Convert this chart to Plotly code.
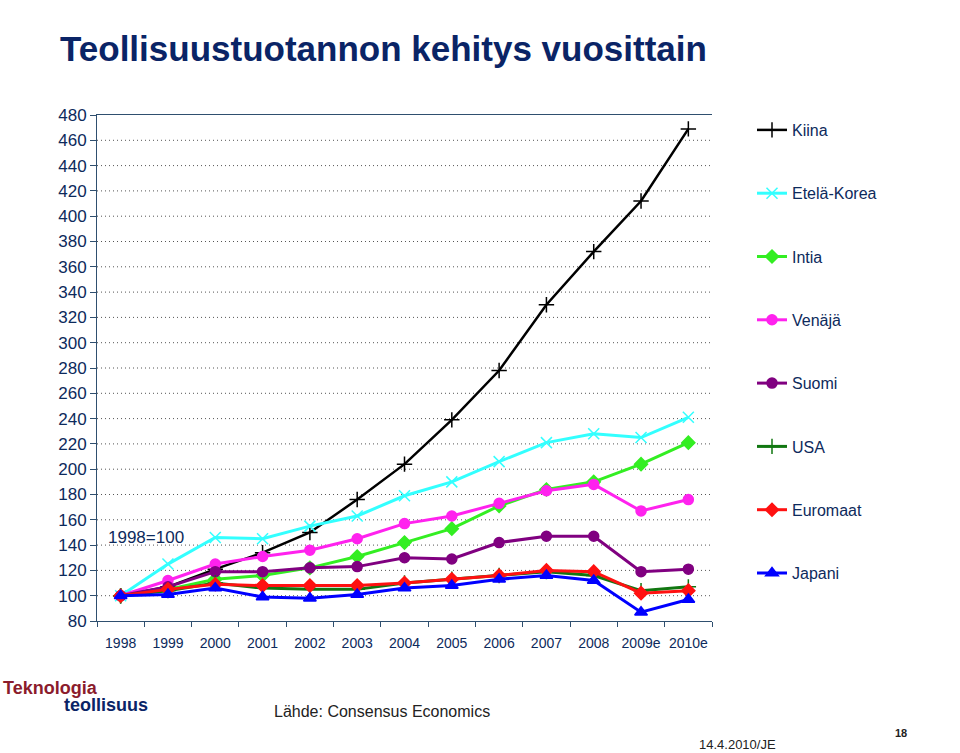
import plotly.graph_objects as go

years = ["1998", "1999", "2000", "2001", "2002", "2003", "2004", "2005", "2006", "2007", "2008", "2009e", "2010e"]

kiina = [100, 107, 121, 134, 150, 176, 204, 239, 278, 330, 372, 412, 469]
etela_korea = [100, 125, 146, 145, 155, 163, 179, 190, 206, 221, 228, 225, 241]
intia = [100, 105, 113, 116, 122, 131, 142, 153, 171, 184, 190, 204, 221]
venaja = [100, 112, 125, 131, 136, 145, 157, 163, 173, 183, 188, 167, 176]
suomi = [100, 107, 119, 119, 122, 123, 130, 129, 142, 147, 147, 119, 121]
usa = [100, 104, 110, 106, 105, 105, 110, 113, 116, 119, 116, 104, 107]
euromaat = [100, 105, 109, 108, 108, 108, 110, 113, 116, 120, 119, 102, 104]
japani = [100, 101, 106, 99, 98, 101, 106, 108, 113, 116, 112, 87, 97]

series = [
    ("Kiina", kiina, "#000000", "cross-thin-open", 11, 2.5),
    ("Etelä-Korea", etela_korea, "#33ffff", "x-thin-open", 11, 3),
    ("Intia", intia, "#33ee22", "diamond", 10, 3),
    ("Venäjä", venaja, "#ff22ee", "circle", 10, 3),
    ("Suomi", suomi, "#800080", "circle", 10, 3),
    ("USA", usa, "#117711", "cross-thin-open", 11, 3),
    ("Euromaat", euromaat, "#ff1111", "diamond", 10, 3),
    ("Japani", japani, "#0000ff", "triangle-up", 11, 3),
]

navy = "#0d2a5c"
fig = go.Figure()
for name, vals, col, sym, sz, lw in series:
    fig.add_trace(go.Scatter(
        x=years, y=vals, name=name, mode="lines+markers",
        line=dict(color=col, width=lw),
        marker=dict(symbol=sym, size=sz, color=col, line=dict(color=col, width=1.5)),
        legendgroup=name,
    ))

L, R, T, B = 97, 248, 115, 132
W, H = 960, 753

fig.update_layout(
    width=W, height=H,
    margin=dict(l=L, r=R, t=T, b=B),
    paper_bgcolor="white", plot_bgcolor="white",
    font=dict(family="Liberation Sans, Arial, sans-serif", color=navy),
    showlegend=True,
    legend=dict(
        x=(752 - L) / (W - L - R), y=1.0 + 2 / (H - T - B), xanchor="left", yanchor="top",
        font=dict(size=16, color=navy),
        tracegroupgap=39.5, itemwidth=30, maxheight=700,
        bgcolor="rgba(0,0,0,0)",
    ),
    xaxis=dict(
        type="category", showgrid=False, showline=True, linecolor="#2f4f6f", linewidth=1,
        mirror=True, ticks="outside", tickson="boundaries", ticklen=5, tickcolor="#2f4f6f",
        tickfont=dict(size=14, color=navy), tickangle=0, range=[-0.5, 12.5],
        ticklabelstandoff=9,
    ),
    yaxis=dict(
        range=[80, 480], tickvals=list(range(80, 481, 20)), showline=True,
        linecolor="#2f4f6f", linewidth=1, ticks="outside", ticklen=6, tickcolor="#2f4f6f",
        showgrid=False, tickfont=dict(size=17, color=navy), zeroline=False,
    ),
)

# dotted gridlines (100..460)
for v in range(100, 461, 20):
    fig.add_shape(type="line", xref="paper", x0=0, x1=1, yref="y", y0=v, y1=v,
                  line=dict(color="#555555", width=1, dash="1px,3px"), layer="below")

fig.add_annotation(x=0.015, xref="paper", y=146, yref="y", text="1998=100", showarrow=False,
                   xanchor="left", font=dict(size=17, color=navy))


def px(x):
    return (x - L) / (W - L - R)


def py(y):
    return (H - B - y) / (H - T - B)


# Title
fig.add_annotation(x=px(58), y=py(48), xref="paper", yref="paper", xanchor="left", yanchor="middle",
                   text="<b>Teollisuustuotannon kehitys vuosittain</b>", showarrow=False,
                   font=dict(size=35, color="#0a2466"))

# Footer texts
fig.add_annotation(x=px(1), y=py(688), xref="paper", yref="paper", xanchor="left", yanchor="middle",
                   text="<b>Teknologia</b>", showarrow=False,
                   font=dict(size=18, color="#8b1c2c"))
fig.add_annotation(x=px(62), y=py(705), xref="paper", yref="paper", xanchor="left", yanchor="middle",
                   text="<b>teollisuus</b>", showarrow=False,
                   font=dict(size=18, color="#0a2466"))
fig.add_annotation(x=px(272), y=py(711), xref="paper", yref="paper", xanchor="left", yanchor="middle",
                   text="Lähde: Consensus Economics", showarrow=False,
                   font=dict(size=16, color="#222222"))
fig.add_annotation(x=px(697), y=py(744), xref="paper", yref="paper", xanchor="left", yanchor="middle",
                   text="14.4.2010/JE", showarrow=False,
                   font=dict(size=13, color="#222222"))
fig.add_annotation(x=px(893), y=py(733), xref="paper", yref="paper", xanchor="left", yanchor="middle",
                   text="<b>18</b>", showarrow=False,
                   font=dict(size=11, color="#222222"))

fig.write_html("out.html")
